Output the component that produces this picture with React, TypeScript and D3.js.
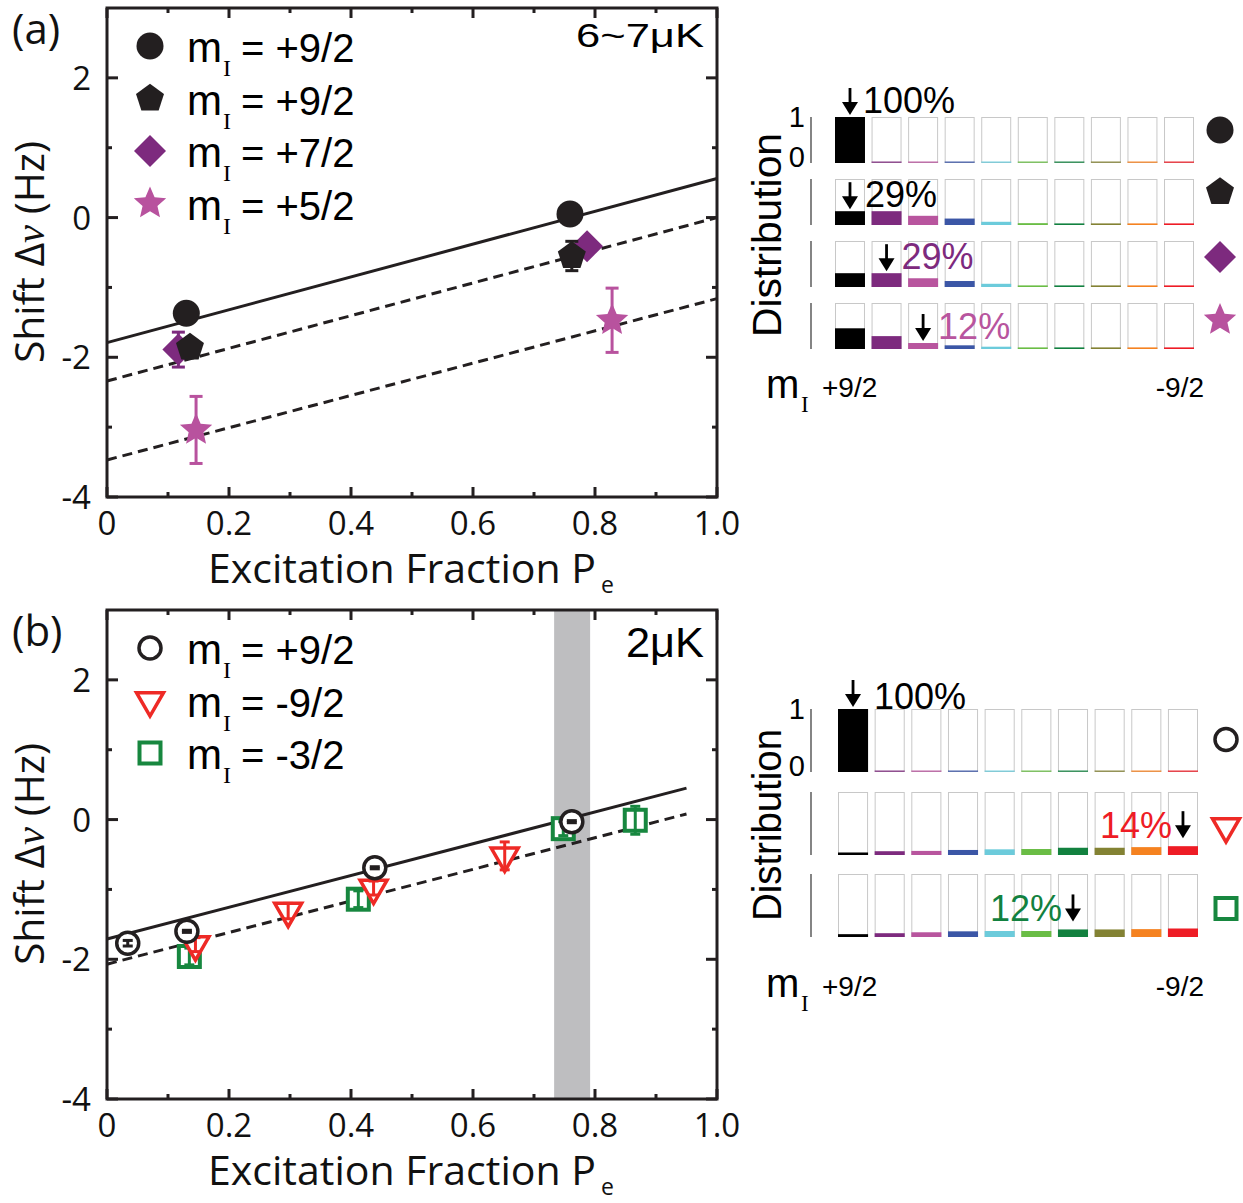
import React from "react";
import * as d3 from "d3";

const FONT_SANS = "'Open Sans', 'Noto Sans', sans-serif";
const FONT_ARIAL = "'Liberation Sans', Arial, Helvetica, sans-serif";
const FONT_SERIF = "'Liberation Serif', 'DejaVu Serif', serif";
const INK = "#231F20";
const PURPLE = "#7D2A7E";
const PINK = "#B8529E";
const RED = "#EE2A26";
const GREEN = "#17873F";

// ---------- axes ----------
const xTickValues = [0, 0.2, 0.4, 0.6, 0.8, 1.0];
const xTickLabels = ["0", "0.2", "0.4", "0.6", "0.8", "1.0"];
const xMinorTicks = [0.1, 0.3, 0.5, 0.7, 0.9];
const yTickValues = [2, 0, -2, -4];
const yTickLabels = ["2", "0", "-2", "-4"];
const yMinorTicks = [1, -1, -3];

// ---------- panel (a) data ----------
const aCircleMI92 = [{ x: 0.13, y: -1.37, e: 0 }, { x: 0.759, y: 0.05, e: 0 }];
const aPentagonMI92 = [{ x: 0.136, y: -1.86, e: 0 }, { x: 0.762, y: -0.55, e: 0.21 }];
const aDiamondMI72 = [{ x: 0.117, y: -1.89, e: 0.25 }, { x: 0.787, y: -0.41, e: 0 }];
const aStarMI52 = [{ x: 0.146, y: -3.04, e: 0.48 }, { x: 0.828, y: -1.47, e: 0.46 }];
const aFitSolid = [{ x: 0, y: -1.79 }, { x: 1, y: 0.56 }];
const aFitDashed1 = [{ x: 0, y: -2.34 }, { x: 1, y: 0.0 }];
const aFitDashed2 = [{ x: 0, y: -3.47 }, { x: 1, y: -1.16 }];
const aLegendLabels = ["+9/2", "+9/2", "+7/2", "+5/2"];

// ---------- panel (b) data ----------
const bCircleMI92 = [
  { x: 0.034, y: -1.77, e: 0.04 },
  { x: 0.131, y: -1.6, e: 0.015 },
  { x: 0.439, y: -0.69, e: 0.015 },
  { x: 0.762, y: -0.03, e: 0.015 },
];
const bTriangleMIm92 = [
  { x: 0.145, y: -1.79, e: 0.1 },
  { x: 0.297, y: -1.31, e: 0.11 },
  { x: 0.437, y: -0.98, e: 0.1 },
  { x: 0.652, y: -0.52, e: 0.2 },
];
const bSquareMIm32 = [
  { x: 0.135, y: -1.96, e: 0.12 },
  { x: 0.412, y: -1.14, e: 0.12 },
  { x: 0.748, y: -0.13, e: 0.1 },
  { x: 0.866, y: -0.01, e: 0.2 },
];
const bFitSolid = [{ x: 0, y: -1.71 }, { x: 0.95, y: 0.45 }];
const bFitDashed = [{ x: 0, y: -2.07 }, { x: 0.95, y: 0.08 }];
const bBand = [0.733, 0.792];
const bLegendLabels = ["+9/2", "-9/2", "-3/2"];

// ---------- distributions ----------
const mIBins = ["+9/2", "+7/2", "+5/2", "+3/2", "+1/2", "-1/2", "-3/2", "-5/2", "-7/2", "-9/2"];
const binColors = ["#000000", "#7D2A7E", "#B8559E", "#3B56A6", "#6CCBDB", "#6ABD45", "#12813F", "#838233", "#F58220", "#EE1C25"];
const aDist = [
  [1, 0, 0, 0, 0, 0, 0, 0, 0, 0],
  [0.3, 0.3, 0.2, 0.14, 0.07, 0.04, 0.03, 0.02, 0.02, 0.02],
  [0.3, 0.3, 0.19, 0.13, 0.07, 0.03, 0.03, 0.02, 0.02, 0.02],
  [0.45, 0.28, 0.13, 0.08, 0.05, 0.03, 0.02, 0.02, 0.02, 0.02],
];
const bDist = [
  [1, 0, 0, 0, 0, 0, 0, 0, 0, 0],
  [0.04, 0.06, 0.065, 0.08, 0.09, 0.095, 0.115, 0.115, 0.125, 0.14],
  [0.045, 0.06, 0.075, 0.09, 0.095, 0.095, 0.12, 0.12, 0.125, 0.135],
];
const aPercent = [
  { row: 0, bin: 0, text: "100%" },
  { row: 1, bin: 0, text: "29%" },
  { row: 2, bin: 1, text: "29%" },
  { row: 3, bin: 2, text: "12%" },
];
const bPercent = [
  { row: 0, bin: 0, text: "100%" },
  { row: 1, bin: 9, text: "14%" },
  { row: 2, bin: 6, text: "12%" },
];

// ---------- shapes ----------
const pentagonPath = (R: number) =>
  "M" + d3.range(5).map((i) => {
    const a = -Math.PI / 2 + (i * 2 * Math.PI) / 5;
    return `${R * Math.cos(a)},${R * Math.sin(a)}`;
  }).join("L") + "Z";
const starPath = (Ro: number, Ri: number) =>
  "M" + d3.range(10).map((i) => {
    const a = -Math.PI / 2 + (i * Math.PI) / 5;
    const r = i % 2 === 0 ? Ro : Ri;
    return `${r * Math.cos(a)},${r * Math.sin(a)}`;
  }).join("L") + "Z";
const diamondPath = (h: number) => `M0,${-h}L${h},0L0,${h}L${-h},0Z`;
const triDownPath = (w: number) => {
  const h = w * 0.866;
  return `M${-w / 2},${-h / 3}L${w / 2},${-h / 3}L0,${(2 * h) / 3}Z`;
};

function Marker({ type, cx, cy }: { type: string; cx: number; cy: number }) {
  const t = `translate(${cx},${cy})`;
  switch (type) {
    case "fcircle":
      return <circle cx={cx} cy={cy} r={13.5} fill={INK} />;
    case "pentagon":
      return <path transform={t} d={pentagonPath(14.7)} fill={INK} />;
    case "diamond":
      return <path transform={t} d={diamondPath(16)} fill={PURPLE} />;
    case "star":
      return <path transform={t} d={starPath(17, 7.8)} fill={PINK} />;
    case "ocircle":
      return <circle cx={cx} cy={cy} r={11} fill="white" stroke={INK} strokeWidth={3.5} />;
    case "otri":
      return <path transform={t} d={triDownPath(27)} fill="white" stroke={RED} strokeWidth={3.5} strokeLinejoin="miter" />;
    case "osquare":
      return <rect x={cx - 10.5} y={cy - 10.5} width={21} height={21} fill="white" stroke={GREEN} strokeWidth={4} />;
    default:
      return null;
  }
}

const markerColor: Record<string, string> = {
  fcircle: INK, pentagon: INK, diamond: PURPLE, star: PINK, ocircle: INK, otri: RED, osquare: GREEN,
};

const xScale = d3.scaleLinear().domain([0, 1]).range([107, 717]);

function ErrorBar({ cx, y, e, yS, color, cap }: any) {
  if (!e) return null;
  const y1 = yS(y + e), y2 = yS(y - e);
  return (
    <g stroke={color} strokeWidth={3}>
      <line x1={cx} x2={cx} y1={y1} y2={y2} />
      <line x1={cx - cap / 2} x2={cx + cap / 2} y1={y1} y2={y1} />
      <line x1={cx - cap / 2} x2={cx + cap / 2} y1={y2} y2={y2} />
    </g>
  );
}

function ScatterPanel({ top, panelLabel, temp, tempSize, tempLen, series, fits, band, legend, errorOnTop }: any) {
  const bottom = top + 489;
  const yS = d3.scaleLinear().domain([-4, 3]).range([bottom, top]);
  const X0 = 107, X1 = 717;
  const line = d3.line<any>().x((d) => xScale(d.x)).y((d) => yS(d.y));
  return (
    <g>
      {band && (
        <rect x={xScale(band[0])} y={top} width={xScale(band[1]) - xScale(band[0])} height={bottom - top} fill="#BEBEC0" />
      )}
      {/* frame & ticks */}
      <g stroke={INK} strokeWidth={3} fill="none">
        <rect x={X0} y={top} width={X1 - X0} height={bottom - top} />
        {xTickValues.map((v) => (
          <g key={"xm" + v}>
            <line x1={xScale(v)} x2={xScale(v)} y1={bottom} y2={bottom - 10} />
            <line x1={xScale(v)} x2={xScale(v)} y1={top} y2={top + 10} />
          </g>
        ))}
        {xMinorTicks.map((v) => (
          <g key={"xn" + v}>
            <line x1={xScale(v)} x2={xScale(v)} y1={bottom} y2={bottom - 5} />
            <line x1={xScale(v)} x2={xScale(v)} y1={top} y2={top + 5} />
          </g>
        ))}
        {yTickValues.map((v) => (
          <g key={"ym" + v}>
            <line x1={X0} x2={X0 + 11} y1={yS(v)} y2={yS(v)} />
            <line x1={X1} x2={X1 - 11} y1={yS(v)} y2={yS(v)} />
          </g>
        ))}
        {yMinorTicks.map((v) => (
          <g key={"yn" + v}>
            <line x1={X0} x2={X0 + 5} y1={yS(v)} y2={yS(v)} />
            <line x1={X1} x2={X1 - 5} y1={yS(v)} y2={yS(v)} />
          </g>
        ))}
      </g>
      {/* tick labels */}
      <g fontFamily={FONT_SANS} fontSize={33} fill="#111">
        {xTickValues.map((v, i) => (
          <text key={"xl" + v} x={xScale(v)} y={bottom + 38} textAnchor="middle">{xTickLabels[i]}</text>
        ))}
        {yTickValues.map((v, i) => (
          <text key={"yl" + v} x={91} y={yS(v) + 12} textAnchor="end">{yTickLabels[i]}</text>
        ))}
      </g>
      {/* axis titles */}
      <text x={208} y={bottom + 86} fontFamily={FONT_SANS} fontSize={41} fill="#111" textLength={388} lengthAdjust="spacingAndGlyphs">
        Excitation Fraction P
      </text>
      <text x={601} y={bottom + 96} fontFamily={FONT_SANS} fontSize={23} fill="#111">e</text>
      <text transform={`translate(44,${top + 244}) rotate(-90)`} textAnchor="middle" fontFamily={FONT_SANS} fontSize={40} fill="#111" textLength={222} lengthAdjust="spacingAndGlyphs">
        <tspan>Shift Δ</tspan>
        <tspan fontFamily={FONT_SERIF} fontStyle="italic">ν</tspan>
        <tspan> (Hz)</tspan>
      </text>
      <text x={12} y={top + 36} fontFamily={FONT_SANS} fontSize={42} fill="#111">{panelLabel}</text>
      <text x={704} y={top + (tempSize > 36 ? 47 : 39)} textAnchor="end" fontFamily={FONT_ARIAL} fontSize={tempSize} fill="#000" textLength={tempLen} lengthAdjust="spacingAndGlyphs">
        {temp}
      </text>
      {/* fits */}
      {fits.map((f: any, i: number) => (
        <path key={"f" + i} d={line(f.pts) || ""} fill="none" stroke={INK} strokeWidth={3} strokeDasharray={f.dashed ? "10 6" : undefined} />
      ))}
      {/* data */}
      {series.map((s: any, si: number) => (
        <g key={"s" + si}>
          {s.data.map((d: any, i: number) => (
            <g key={i}>
              {!errorOnTop && <ErrorBar cx={xScale(d.x)} y={d.y} e={d.e} yS={yS} color={markerColor[s.type]} cap={13} />}
              <Marker type={s.type} cx={xScale(d.x)} cy={yS(d.y)} />
              {errorOnTop && <ErrorBar cx={xScale(d.x)} y={d.y} e={d.e} yS={yS} color={markerColor[s.type]} cap={10} />}
            </g>
          ))}
        </g>
      ))}
      {/* legend */}
      {legend.map((l: any, i: number) => {
        const cy = top + 38 + i * 52.5;
        return (
          <g key={"lg" + i}>
            <Marker type={l.type} cx={150} cy={cy} />
            <text x={187} y={cy + 16} fill="#000" fontFamily={FONT_ARIAL} fontSize={42}>m</text>
            <text x={223} y={cy + 30} fill="#000" fontFamily={FONT_SERIF} fontSize={24}>I</text>
            <text x={241} y={cy + 16} fill="#000" fontFamily={FONT_ARIAL} fontSize={40}>= {l.label}</text>
          </g>
        );
      })}
    </g>
  );
}

function Arrow({ x, tipY }: { x: number; tipY: number }) {
  return (
    <g fill="#000">
      <rect x={x - 1.4} y={tipY - 27} width={2.8} height={16} />
      <path d={`M${x - 8},${tipY - 13}L${x + 8},${tipY - 13}L${x},${tipY}Z`} />
    </g>
  );
}

function DistPanel({ rows, rowTops, rowH, x0, x1, percents, markers, textLeftGap, labelRightGap, markerDy, labelY, mY, distLen }: any) {
  const band = d3.scaleBand<number>().domain(d3.range(10)).range([x0, x1]).paddingInner(0.18).paddingOuter(0);
  const bw = band.bandwidth();
  const top = rowTops[0];
  const bottomAll = rowTops[rowTops.length - 1] + rowH;
  return (
    <g>
      <text transform={`translate(781,${(top + bottomAll) / 2 + 2}) rotate(-90)`} textAnchor="middle" fontFamily={FONT_ARIAL} fontSize={40} fill="#000" textLength={distLen} lengthAdjust="spacingAndGlyphs">
        Distribution
      </text>
      <g fontFamily={FONT_ARIAL} fontSize={29} fill="#000" textAnchor="end">
        <text x={805} y={top + 10}>1</text>
        <text x={805} y={top + rowH + 4}>0</text>
      </g>
      {rows.map((vals: number[], r: number) => {
        const rt = rowTops[r];
        const yS = d3.scaleLinear().domain([0, 1]).range([rt + rowH, rt]);
        return (
          <g key={"r" + r}>
            <line x1={811} x2={811} y1={rt} y2={rt + rowH} stroke="#333" strokeWidth={1.2} />
            {vals.map((v, i) => {
              const bx = band(i) as number;
              const h = Math.max(yS(0) - yS(v), 1.6);
              return (
                <g key={i}>
                  <rect x={bx + 0.5} y={rt + 0.5} width={bw - 1} height={rowH - 1} fill="white" stroke="#C8C8C8" strokeWidth={1} />
                  <rect x={bx} y={yS(0) - h} width={bw} height={h} fill={binColors[i]} opacity={v > 0 ? 1 : 0.75} />
                </g>
              );
            })}
            <Marker type={markers[r]} cx={markers[r].startsWith("o") ? 1226 : 1220} cy={rt + rowH / 2 + markerDy[r]} />
          </g>
        );
      })}
      {percents.map((p: any, i: number) => {
        const rt = rowTops[p.row];
        const yS = d3.scaleLinear().domain([0, 1]).range([rt + rowH, rt]);
        const ax = (band(p.bin) as number) + bw / 2;
        const right = p.bin >= 5;
        const tip = yS(rows[p.row][p.bin]) - (right ? 8 : 2);
        const color = p.bin === 0 ? "#000" : binColors[p.bin];
        return (
          <g key={"p" + i}>
            <Arrow x={ax} tipY={tip} />
            <text
              x={right ? ax - 11 : ax + (p.row === 0 ? textLeftGap[0] : textLeftGap[1])}
              y={tip + (right ? 0 : labelRightGap)}
              textAnchor={right ? "end" : "start"}
              fontFamily={FONT_ARIAL}
              fontSize={36}
              fill={color}
            >
              {p.text}
            </text>
          </g>
        );
      })}
      <text x={766} y={mY} fontFamily={FONT_ARIAL} fontSize={40} fill="#000">m</text>
      <text x={801} y={mY + 14} fontFamily={FONT_SERIF} fontSize={23} fill="#000">I</text>
      <text x={822} y={labelY} fontFamily={FONT_ARIAL} fontSize={28} fill="#000">{mIBins[0]}</text>
      <text x={1204} y={labelY} textAnchor="end" fontFamily={FONT_ARIAL} fontSize={28} fill="#000">{mIBins[9]}</text>
    </g>
  );
}

export default function App() {
  return (
    <div style={{ position: "absolute", left: 0, top: 0 }}>
      <svg width={1243} height={1203} style={{ display: "block", background: "#fff" }}>
        <rect width={1243} height={1203} fill="#fff" />
        <ScatterPanel
          top={8}
          panelLabel="(a)"
          temp="6~7μK"
          tempSize={34}
          tempLen={128}
          fits={[
            { pts: aFitSolid, dashed: false },
            { pts: aFitDashed1, dashed: true },
            { pts: aFitDashed2, dashed: true },
          ]}
          series={[
            { type: "diamond", data: aDiamondMI72 },
            { type: "pentagon", data: aPentagonMI92 },
            { type: "fcircle", data: aCircleMI92 },
            { type: "star", data: aStarMI52 },
          ]}
          legend={[
            { type: "fcircle", label: aLegendLabels[0] },
            { type: "pentagon", label: aLegendLabels[1] },
            { type: "diamond", label: aLegendLabels[2] },
            { type: "star", label: aLegendLabels[3] },
          ]}
          errorOnTop={false}
        />
        <ScatterPanel
          top={610}
          panelLabel="(b)"
          temp="2μK"
          tempSize={42}
          tempLen={78}
          band={bBand}
          fits={[
            { pts: bFitSolid, dashed: false },
            { pts: bFitDashed, dashed: true },
          ]}
          series={[
            { type: "osquare", data: bSquareMIm32 },
            { type: "otri", data: bTriangleMIm92 },
            { type: "ocircle", data: bCircleMI92 },
          ]}
          legend={[
            { type: "ocircle", label: bLegendLabels[0] },
            { type: "otri", label: bLegendLabels[1] },
            { type: "osquare", label: bLegendLabels[2] },
          ]}
          errorOnTop={true}
        />
        <DistPanel
          rows={aDist}
          rowTops={[117, 179, 241, 303]}
          rowH={46}
          x0={835}
          x1={1194}
          percents={aPercent}
          markers={["fcircle", "pentagon", "diamond", "star"]}
          markerDy={[-10, -10, -7, -6]}
          textLeftGap={[13, 15]}
          labelRightGap={-2}
          labelY={397}
          mY={398}
          distLen={204}
        />
        <DistPanel
          rows={bDist}
          rowTops={[709, 792, 874]}
          rowH={63}
          x0={838}
          x1={1198}
          percents={bPercent}
          markers={["ocircle", "otri", "osquare"]}
          markerDy={[-1, 3, 3]}
          textLeftGap={[21, 15]}
          labelRightGap={2}
          labelY={996}
          mY={997}
          distLen={192}
        />
      </svg>
    </div>
  );
}
